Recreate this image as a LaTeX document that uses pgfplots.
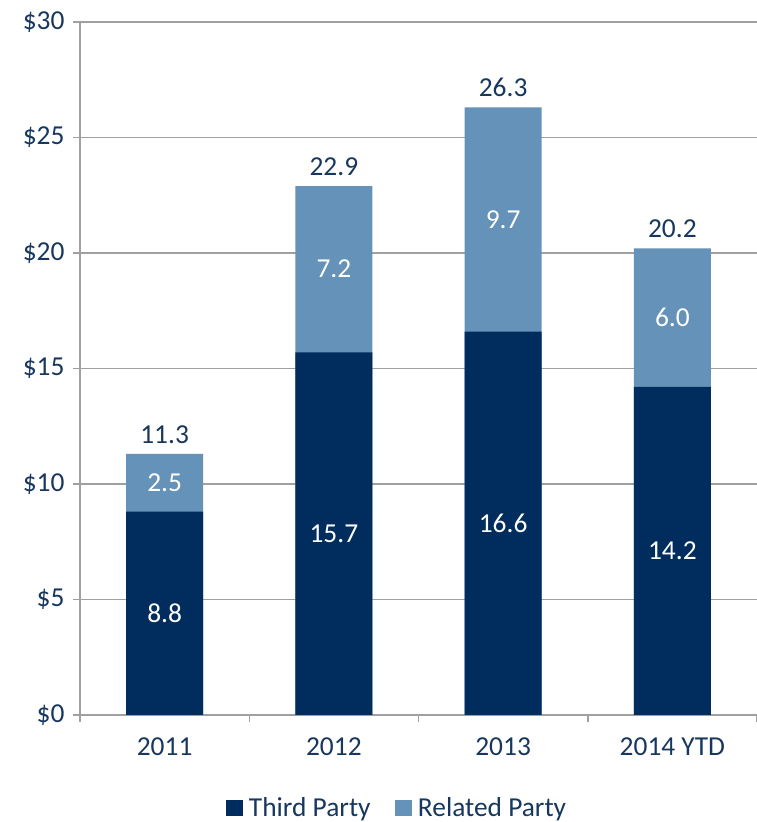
\documentclass[border=0pt]{standalone}
\usepackage{fontspec}
\setmainfont{Carlito}
\usepackage{pgfplots}
\pgfplotsset{compat=1.18}
\definecolor{dark}{HTML}{002D5E}
\definecolor{light}{HTML}{6592B8}
\definecolor{txt}{HTML}{17375E}
\definecolor{gridc}{HTML}{A0A0A0}
\newcommand{\lf}{\fontsize{27.5}{32}\selectfont}
\begin{document}
\begin{tikzpicture}
\useasboundingbox (0,0) rectangle (757bp,822bp);
\begin{axis}[
  at={(80bp,107bp)}, anchor=south west,
  scale only axis, width=677bp, height=693bp,
  xmin=-0.5, xmax=3.5, ymin=0, ymax=30,
  axis x line*=bottom, axis y line*=left,
  axis line style={gridc, line width=1.5bp},
  ymajorgrids, grid style={gridc, line width=1.5bp},
  ytick={0,5,10,15,20,25,30},
  yticklabels={\$0,\$5,\$10,\$15,\$20,\$25,\$30},
  xtick={-0.5,0.5,1.5,2.5,3.5},
  xticklabels={},
  extra x ticks={0,1,2,3},
  extra x tick labels={2011,2012,2013,2014 YTD},
  extra x tick style={major tick length=0pt, xticklabel style={yshift=-19bp}},
  tick align=outside, major tick length=7bp,
  tick style={gridc, line width=1.5bp},
  tick label style={font=\lf, text=txt},
  yticklabel style={xshift=-5bp},
  legend image code/.code={\fill[#1] (0bp,-7.5bp) rectangle (16bp,7.5bp); \path (21bp,0bp);},
  legend style={at={(0.468,-0.134)}, anchor=center, draw=none, fill=none,
    font=\lf, text=txt, legend columns=2,
    /tikz/every even column/.append style={column sep=22bp}},
]
\addplot[ybar, bar width=77bp, bar shift=0pt, fill=light, draw=none, forget plot,
  nodes near coords, point meta=explicit symbolic,
  nodes near coords style={font=\lf, text=txt, anchor=south, yshift=7bp}]
  coordinates {(0,11.3)[11.3] (1,22.9)[22.9] (2,26.3)[26.3] (3,20.2)[20.2]};
\addplot[ybar, bar width=77bp, bar shift=0pt, fill=dark, draw=none, forget plot]
  coordinates {(0,8.8) (1,15.7) (2,16.6) (3,14.2)};
\addplot[draw=none, mark=none, forget plot,
  nodes near coords, point meta=explicit symbolic,
  nodes near coords style={font=\lf, text=white, anchor=center}]
  coordinates {(0,4.4)[8.8] (1,7.85)[15.7] (2,8.3)[16.6] (3,7.1)[14.2]
               (0,10.05)[2.5] (1,19.3)[7.2] (2,21.45)[9.7] (3,17.2)[6.0]};
\addlegendimage{dark}
\addlegendentry{Third Party}
\addlegendimage{light}
\addlegendentry{Related Party}
\end{axis}
\end{tikzpicture}
\end{document}
